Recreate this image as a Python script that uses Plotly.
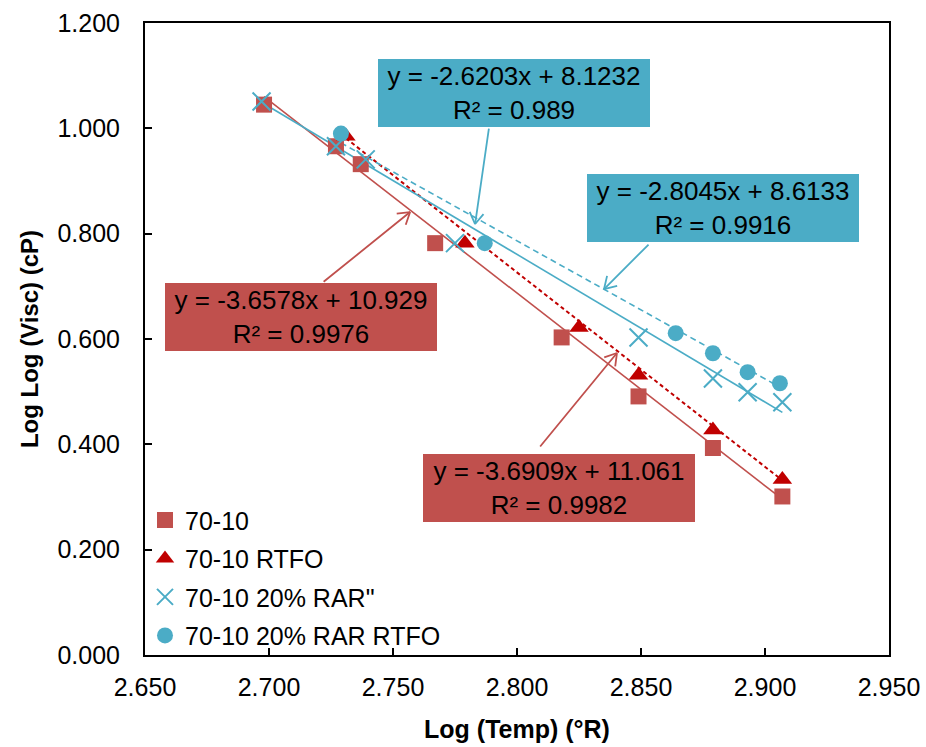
import numpy as np
import plotly.graph_objects as go

# ---- data ----
x_7010 = [2.698, 2.727, 2.737, 2.767, 2.818, 2.849, 2.879, 2.907]
y_7010 = [1.045, 0.966, 0.932, 0.782, 0.603, 0.491, 0.393, 0.301]

x_7010_rtfo = [2.731, 2.779, 2.825, 2.849, 2.879, 2.907]
y_7010_rtfo = [0.985, 0.782, 0.622, 0.531, 0.427, 0.333]

x_rar = [2.697, 2.727, 2.739, 2.775, 2.849, 2.879, 2.893, 2.907]
y_rar = [1.051, 0.966, 0.941, 0.782, 0.603, 0.525, 0.499, 0.480]

x_rar_rtfo = [2.729, 2.787, 2.864, 2.879, 2.893, 2.906]
y_rar_rtfo = [0.990, 0.782, 0.611, 0.573, 0.537, 0.516]

series_names = ["70-10", "70-10 RTFO", "70-10 20% RAR\"", "70-10 20% RAR RTFO"]

# trendline coefficients printed on the chart
slope_7010, icpt_7010 = -3.6578, 10.929
slope_7010_rtfo, icpt_7010_rtfo = -3.6909, 11.061
slope_rar, icpt_rar = -2.8045, 8.6133
slope_rar_rtfo, icpt_rar_rtfo = -2.6203, 8.1232

label_texts = [
    "y = -2.6203x + 8.1232<br>R² = 0.989",
    "y = -2.8045x + 8.6133<br>R² = 0.9916",
    "y = -3.6578x + 10.929<br>R² = 0.9976",
    "y = -3.6909x + 11.061<br>R² = 0.9982",
]

x_ticks = [2.65, 2.70, 2.75, 2.80, 2.85, 2.90, 2.95]
y_ticks = [0.0, 0.2, 0.4, 0.6, 0.8, 1.0, 1.2]

RED = "#C0504D"
DRED = "#C00000"
BLUE = "#4BACC6"
FONT = "Liberation Sans, Arial, sans-serif"

fig = go.Figure()

def trend(xs, m, b):
    xx = np.array([min(xs), max(xs)])
    return xx, m * xx + b

# trendlines
for xs, m, b, col, dash, w in [
    (x_7010, slope_7010, icpt_7010, RED, "solid", 1.6),
    (x_7010_rtfo, slope_7010_rtfo, icpt_7010_rtfo, DRED, "4px,3px", 2),
    (x_rar, slope_rar, icpt_rar, BLUE, "solid", 1.6),
    (x_rar_rtfo, slope_rar_rtfo, icpt_rar_rtfo, BLUE, "6px,4px", 1.6),
]:
    tx, ty = trend(xs, m, b)
    fig.add_trace(go.Scatter(x=tx, y=ty, mode="lines", showlegend=False,
                             line=dict(color=col, width=w, dash=dash),
                             hoverinfo="skip"))

# markers
fig.add_trace(go.Scatter(x=x_7010, y=y_7010, mode="markers", name=series_names[0],
                         legendgroup="a",
                         marker=dict(symbol="square", size=16, color=RED)))
fig.add_trace(go.Scatter(x=x_7010_rtfo, y=y_7010_rtfo, mode="markers", name=series_names[1],
                         legendgroup="b",
                         marker=dict(symbol="triangle-up", size=17, color=DRED)))
fig.add_trace(go.Scatter(x=x_rar, y=y_rar, mode="markers", name=series_names[2],
                         legendgroup="c",
                         marker=dict(symbol="x-thin-open", size=18,
                                     line=dict(color=BLUE, width=2), color=BLUE)))
fig.add_trace(go.Scatter(x=x_rar_rtfo, y=y_rar_rtfo, mode="markers", name=series_names[3],
                         legendgroup="d",
                         marker=dict(symbol="circle", size=16, color=BLUE)))

# label boxes (centre positions in data units)
box_pos = [(2.7988, 1.0671, BLUE), (2.8829, 0.8487, BLUE),
           (2.7129, 0.6418, RED), (2.8171, 0.3171, RED)]
for (bx, by, col), txt in zip(box_pos, label_texts):
    fig.add_annotation(x=bx, y=by, xref="x", yref="y", text=txt, showarrow=False,
                       bgcolor=col, width=272, height=68, borderpad=0, borderwidth=0,
                       font=dict(family=FONT, size=26, color="black"), align="center")

# arrows: tip in data units, tail offset in pixels
arrows = [(2.7831, 0.8183, 14, -97, BLUE), (2.8351, 0.6949, 46, -46, BLUE),
          (2.7569, 0.8411, -88, 71, RED), (2.8403, 0.5734, -78, 95, RED)]
for tx, ty, ax, ay, col in arrows:
    fig.add_annotation(x=tx, y=ty, xref="x", yref="y", ax=ax, ay=ay, text="",
                       showarrow=True, arrowhead=0, arrowwidth=1.8, arrowcolor=col,
                       standoff=0, startstandoff=0)
    u = np.array([ax, ay], dtype=float)
    u = u / np.linalg.norm(u) * 15
    for ang in (np.radians(32), -np.radians(32)):
        c, s = np.cos(ang), np.sin(ang)
        wx, wy = c * u[0] - s * u[1], s * u[0] + c * u[1]
        fig.add_annotation(x=tx, y=ty, xref="x", yref="y", ax=float(wx), ay=float(wy),
                           text="", showarrow=True, arrowhead=0, arrowwidth=1.8,
                           arrowcolor=col, standoff=0, startstandoff=0)

fig.update_layout(
    width=926, height=747,
    margin=dict(l=145, r=37, t=23, b=92, autoexpand=False),
    paper_bgcolor="white", plot_bgcolor="white",
    font=dict(family=FONT, size=25, color="black"),
    showlegend=True,
    legend=dict(x=0.0, y=-0.005, xanchor="left", yanchor="bottom",
                bgcolor="rgba(0,0,0,0)", font=dict(family=FONT, size=25),
                tracegroupgap=3, itemsizing="trace"),
)
fig.update_xaxes(range=[2.65, 2.95], tickvals=x_ticks, tickformat=".3f",
                 ticks="inside", ticklen=7, tickwidth=1.5, tickcolor="black",
                 showline=True, linecolor="black", linewidth=2, mirror=True,
                 showgrid=False, zeroline=False, ticklabelstandoff=9,
                 automargin=False,
                 tickfont=dict(family=FONT, size=25),
                 title=dict(text="<b>Log (Temp) (°R)</b>", standoff=20,
                            font=dict(family=FONT, size=25)))
fig.update_yaxes(range=[0, 1.2], tickvals=y_ticks, tickformat=".3f",
                 ticks="inside", ticklen=7, tickwidth=1.5, tickcolor="black",
                 showline=True, linecolor="black", linewidth=2, mirror=True,
                 showgrid=False, zeroline=False, ticklabelstandoff=18,
                 automargin=False,
                 tickfont=dict(family=FONT, size=25),
                 title=dict(text="<b>Log Log (Visc) (cP)</b>", standoff=12,
                            font=dict(family=FONT, size=24)))

fig.write_html("out.html")
